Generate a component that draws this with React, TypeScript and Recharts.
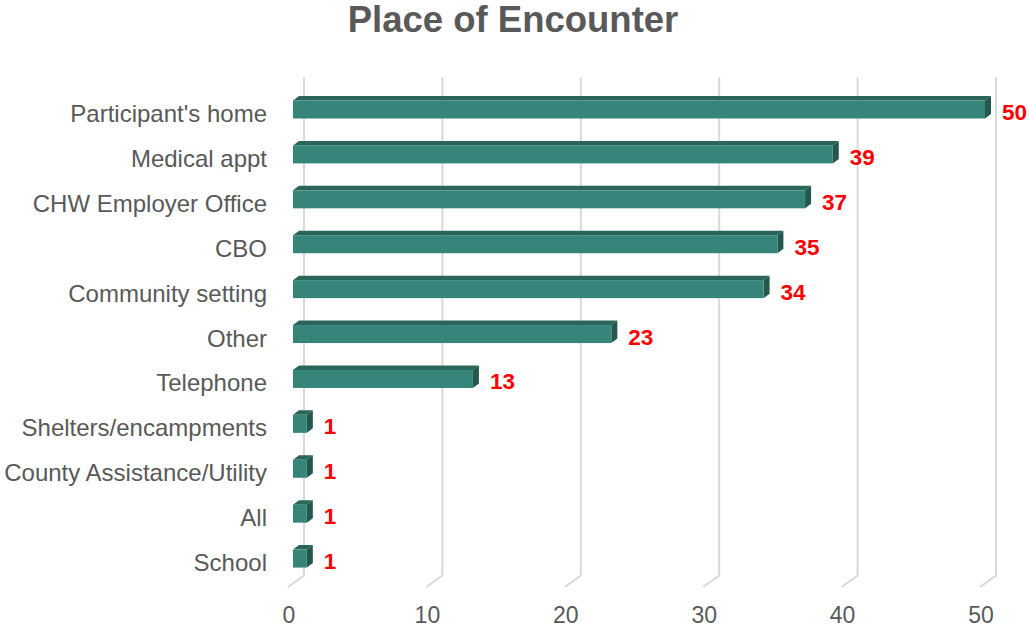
import React from 'react';
import { BarChart, Bar, XAxis, YAxis, CartesianGrid, LabelList } from 'recharts';

const categories = [
    "Participant's home",
    'Medical appt',
    'CHW Employer Office',
    'CBO',
    'Community setting',
    'Other',
    'Telephone',
    'Shelters/encampments',
    'County Assistance/Utility',
    'All',
    'School',
];
const counts = [50, 39, 37, 35, 34, 23, 13, 1, 1, 1, 1];
const xTicks = [0, 10, 20, 30, 40, 50];

const W = 1029;
const H = 627;
const FONT = '"Liberation Sans", Arial, sans-serif';
const TEXT = '#595959';
const FRONT = '#36857a';
const DARK = '#2a655a';
const GRID = '#d9d9d9';
// 3D offsets of the Excel-style bars
const DX = 6;
const DY = 4.5;

const data = categories.map((name, i) => ({ name, value: counts[i] }));

// eslint-disable-next-line @typescript-eslint/no-explicit-any
const Bar3D = (props: any) => {
    const { x, y, width, height } = props;
    const x0 = x + 4;
    const x1 = x + width + 4;
    const top = y;
    const bot = y + height;
    return (
        <g>
            <polygon
                points={`${x0},${top} ${x0 + DX},${top - DY} ${x1 + DX},${top - DY} ${x1},${top}`}
                fill={DARK}
            />
            <polygon
                points={`${x1},${top} ${x1 + DX},${top - DY} ${x1 + DX},${bot - DY} ${x1},${bot}`}
                fill="#24574e"
            />
            <rect x={x0} y={top} width={Math.max(width, 0)} height={height} fill={FRONT} />
        </g>
    );
};

// eslint-disable-next-line @typescript-eslint/no-explicit-any
const gridLine = (props: any) => {
    const { x1, y1, y2, key } = props;
    const pts = `${x1 + 15},${y1 - 10} ${x1 + 15},${y2 - 6} ${x1 - 1},${y2 + 5.5}`;
    return <polyline key={key} points={pts} fill="none" stroke={GRID} strokeWidth={2} />;
};

// eslint-disable-next-line @typescript-eslint/no-explicit-any
const CategoryTick = (props: any) => {
    const { y, payload } = props;
    return (
        <text x={267} y={y + 12} textAnchor="end" fill={TEXT} fontSize={24} fontFamily={FONT}>
            {payload.value}
        </text>
    );
};

// eslint-disable-next-line @typescript-eslint/no-explicit-any
const ValueTick = (props: any) => {
    const { x, payload } = props;
    return (
        <text x={x} y={H - 4} textAnchor="middle" fill={TEXT} fontSize={23} fontFamily={FONT}>
            {payload.value}
        </text>
    );
};

// eslint-disable-next-line @typescript-eslint/no-explicit-any
const ValueLabel = (props: any) => {
    const { x, y, width, height, value } = props;
    return (
        <text
            x={x + width + 21}
            y={y + height / 2 + 10.5}
            fill="#ff0000"
            fontSize={22.5}
            fontWeight="bold"
            fontFamily={FONT}
        >
            {value}
        </text>
    );
};

const App = () => {
    return (
        <div style={{ position: 'absolute', left: 0, top: 0, width: W, height: H, background: '#fff' }}>
            <svg width={W} height={60} style={{ position: 'absolute', left: 0, top: 0 }}>
                <text x={513} y={32} textAnchor="middle" fill={TEXT} fontSize={36.5} fontWeight="bold" fontFamily={FONT}>
                    Place of Encounter
                </text>
            </svg>
            <BarChart
                width={W}
                height={H}
                data={data}
                layout="vertical"
                margin={{ top: 87.5, right: 48, bottom: 0, left: 0 }}
                barCategoryGap={0}
            >
                <CartesianGrid horizontal={false} vertical={gridLine} />
                <XAxis
                    type="number"
                    domain={[0, 50]}
                    ticks={xTicks}
                    height={45.5}
                    axisLine={false}
                    tickLine={false}
                    tick={<ValueTick />}
                    interval={0}
                />
                <YAxis
                    type="category"
                    dataKey="name"
                    width={289}
                    axisLine={false}
                    tickLine={false}
                    tick={<CategoryTick />}
                    interval={0}
                />
                <Bar dataKey="value" barSize={18} shape={<Bar3D />} isAnimationActive={false}>
                    <LabelList dataKey="value" content={<ValueLabel />} />
                </Bar>
            </BarChart>
        </div>
    );
};

export default App;
